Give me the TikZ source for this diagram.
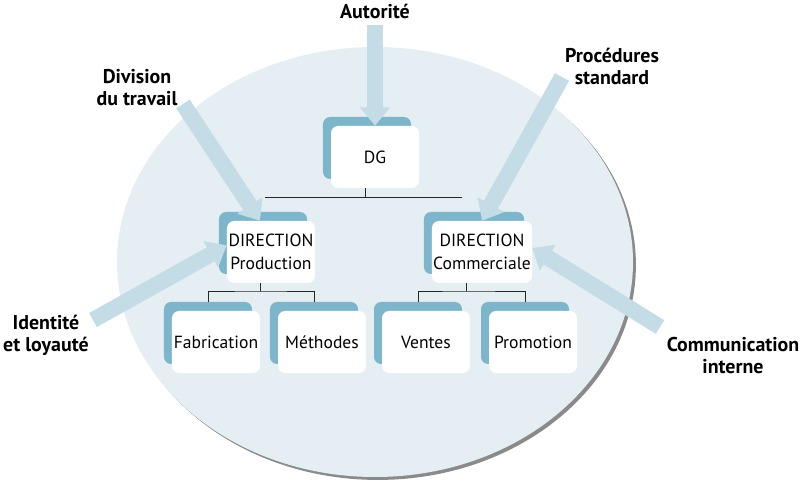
\documentclass[tikz,border=0pt]{standalone}
\usepackage{fontspec}
\setmainfont{PT Sans}
\usetikzlibrary{arrows.meta,shadows}

\definecolor{ovalblue}{RGB}{228,238,243}
\definecolor{backblue}{RGB}{125,181,203}
\definecolor{arrowblue}{RGB}{195,220,230}

\tikzset{
  orgbox/.style={rectangle, rounded corners=6pt, fill=white,
    minimum width=2.64cm, minimum height=1.86cm, inner sep=1pt, align=center,
    font=\fontsize{15}{19.5}\selectfont,
    copy shadow={shadow xshift=-0.24cm, shadow yshift=0.27cm, fill=backblue, draw=none}},
  bigarrow/.style={draw=arrowblue, line width=0.48cm,
    -{Triangle[width=0.87cm,length=0.55cm]}},
  tag/.style={align=center, font=\bfseries\fontsize{17}{18.8}\selectfont},
  link/.style={draw=black!85, line width=0.8pt}
}

\begin{document}
\begin{tikzpicture}[x=0.03cm, y=-0.03cm]
    \useasboundingbox (0,0) rectangle (800,483);
    % the organisation
    \fill[ovalblue, drop shadow={shadow xshift=2.5pt, shadow yshift=-2.5pt, fill=black!70, opacity=.65}]
        (375,262) ellipse [x radius=258, y radius=215];

    \node[orgbox] (dg) at (375,157) {DG};
    \node[orgbox] (prod) at (271,252) {DIRECTION\\Production};
    \node[orgbox] (comm) at (482,252) {DIRECTION\\Commerciale};
    \node[orgbox] (fab) at (216,342) {Fabrication};
    \node[orgbox] (meth) at (322,342) {Méthodes};
    \node[orgbox] (vent) at (426,342) {Ventes};
    \node[orgbox] (promo) at (533,342) {Promotion};

    % links
    \coordinate (barL) at (265,197);
    \coordinate (barR) at (462,197);
    \coordinate (dgj) at (365,197);
    \coordinate (pj) at (260,291);
    \coordinate (cj) at (466,291);
    \draw[link] (barL) -- (barR);
    \draw[link] (dgj |- dg.south) -- (dgj);
    \draw[link] (pj |- prod.south) -- (pj);
    \draw[link] ([xshift=-0.24cm,yshift=0.27cm]fab.north) |- (pj) -| ([xshift=-0.24cm,yshift=0.27cm]meth.north);
    \draw[link] (cj |- comm.south) -- (cj);
    \draw[link] ([xshift=-0.24cm,yshift=0.27cm]vent.north) |- (cj) -| ([xshift=-0.24cm,yshift=0.27cm]promo.north);

    % forces
    \coordinate (autA) at (375,25);
    \coordinate (divA) at (183,104);
    \coordinate (procA) at (562,77);
    \coordinate (idenA) at (93,320);
    \coordinate (comiA) at (660,327);
    \draw[bigarrow] (autA) -- (dg.north);
    \draw[bigarrow] (divA) -- ([xshift=-0.33cm]prod.north);
    \draw[bigarrow] (procA) -- (comm.north);
    \draw[bigarrow] (idenA) -- ([yshift=0.2cm]prod.west);
    \draw[bigarrow] (comiA) -- ([yshift=0.12cm]comm.east);

    \node[tag] (aut) at (375,11) {Autorité};
    \node[tag] (divi) at (137,88) {Division\\du travail};
    \node[tag] (proc) at (612,66) {Procédures\\standard};
    \node[tag] (iden) at (46,335) {Identité\\et loyauté};
    \node[tag] (comi) at (733,356) {Communication\\interne};
\end{tikzpicture}
\end{document}
